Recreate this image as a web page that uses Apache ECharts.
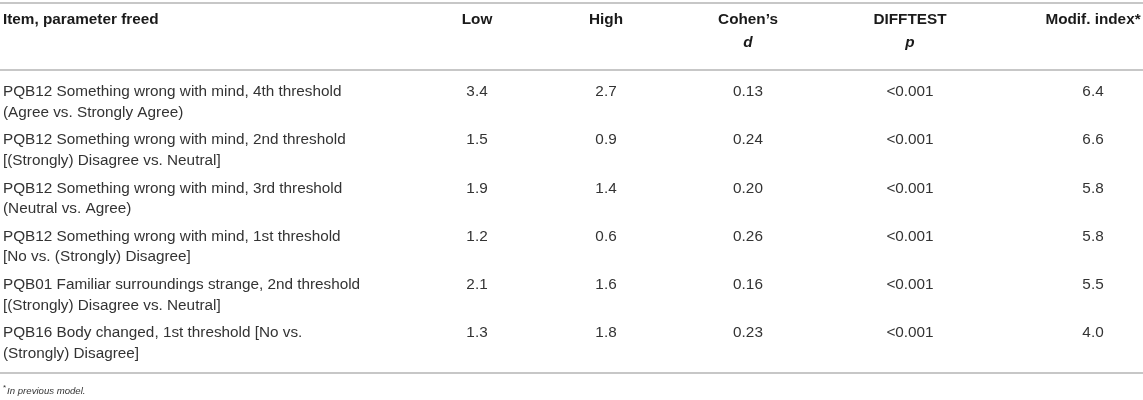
<!DOCTYPE html>
<html>
<head>
<meta charset="utf-8">
<style>
  html, body { margin: 0; padding: 0; background: #fff; }
  #table { width: 1143px; height: 400px; }
</style>
<script src="https://cdn.jsdelivr.net/npm/echarts@6/dist/echarts.min.js"></script>
</head>
<body>
<div id="table"></div>
<script>
// table content
const columns = ['Item, parameter freed', 'Low', 'High', 'Cohen\u2019s', 'DIFFTEST', 'Modif. index*'];
const subHeaders = ['', '', '', 'd', 'p', ''];
const items = [
  ['PQB12 Something wrong with mind, 4th threshold', '(Agree vs. Strongly Agree)'],
  ['PQB12 Something wrong with mind, 2nd threshold', '[(Strongly) Disagree vs. Neutral]'],
  ['PQB12 Something wrong with mind, 3rd threshold', '(Neutral vs. Agree)'],
  ['PQB12 Something wrong with mind, 1st threshold', '[No vs. (Strongly) Disagree]'],
  ['PQB01 Familiar surroundings strange, 2nd threshold', '[(Strongly) Disagree vs. Neutral]'],
  ['PQB16 Body changed, 1st threshold [No vs.', '(Strongly) Disagree]']
];
const low = [3.4, 1.5, 1.9, 1.2, 2.1, 1.3];
const high = [2.7, 0.9, 1.4, 0.6, 1.6, 1.8];
const cohenD = [0.13, 0.24, 0.20, 0.26, 0.16, 0.23];
const difftest = ['<0.001', '<0.001', '<0.001', '<0.001', '<0.001', '<0.001'];
const modifIndex = [6.4, 6.6, 5.8, 5.8, 5.5, 4.0];
const footnote = 'In previous model.';

// layout (pixel units of the hidden axes)
const colX = [3, 477, 606, 748, 910, 1093];
const colAlign = ['left', 'center', 'center', 'center', 'center', 'center'];
const headY = [20, 43];
const firstRowY = 92;
const rowPitch = 48.2;
const lineGap = 20.5;
const rulesY = [3, 70, 373];
const FONT = '"Liberation Sans", Arial, Helvetica, sans-serif';

const cells = [];
columns.forEach(function (c, i) {
  cells.push({ value: [colX[i], headY[0]], text: c, weight: 'bold', align: colAlign[i] });
  if (subHeaders[i]) {
    cells.push({ value: [colX[i], headY[1]], text: subHeaders[i], weight: 'bold', italic: true, align: colAlign[i] });
  }
});
items.forEach(function (lines, r) {
  const y = firstRowY + r * rowPitch;
  const row = [
    lines.join('\n'),
    low[r].toFixed(1),
    high[r].toFixed(1),
    cohenD[r].toFixed(2),
    difftest[r],
    modifIndex[r].toFixed(1)
  ];
  row.forEach(function (t, i) {
    cells.push({ value: [colX[i], y], text: t, align: colAlign[i] });
  });
});

const chart = echarts.init(document.getElementById('table'));
chart.setOption({
  animation: false,
  grid: { left: 0, right: 0, top: 0, bottom: 0 },
  xAxis: { type: 'value', min: 0, max: 1143, show: false },
  yAxis: { type: 'value', min: 0, max: 400, inverse: true, show: false },
  graphic: rulesY.map(function (y) {
    return {
      type: 'line',
      shape: { x1: 0, y1: y, x2: 1143, y2: y },
      style: { stroke: '#b4b4b4', lineWidth: 1.5 }
    };
  }).concat([{
    type: 'text',
    left: 3,
    top: 384,
    style: {
      text: '{s|*}{t|' + footnote + '}',
      rich: {
        s: { fontSize: 8, fontFamily: FONT, fill: '#333', verticalAlign: 'top', padding: [0, 1, 6, 0] },
        t: { fontSize: 9.6, fontStyle: 'italic', fontFamily: FONT, fill: '#333' }
      }
    }
  }]),
  series: [{
    type: 'custom',
    coordinateSystem: 'cartesian2d',
    data: cells,
    renderItem: function (params, api) {
      const cell = cells[params.dataIndex];
      const pt = api.coord([api.value(0), api.value(1)]);
      return {
        type: 'text',
        x: pt[0],
        y: pt[1] - lineGap / 2,
        style: {
          text: cell.text,
          fontFamily: FONT,
          fontSize: 15.3,
          fontWeight: cell.weight || 'normal',
          fontStyle: cell.italic ? 'italic' : 'normal',
          lineHeight: lineGap,
          align: cell.align,
          verticalAlign: 'top',
          fill: cell.weight ? '#1a1a1a' : '#333'
        }
      };
    }
  }]
});
</script>
</body>
</html>
